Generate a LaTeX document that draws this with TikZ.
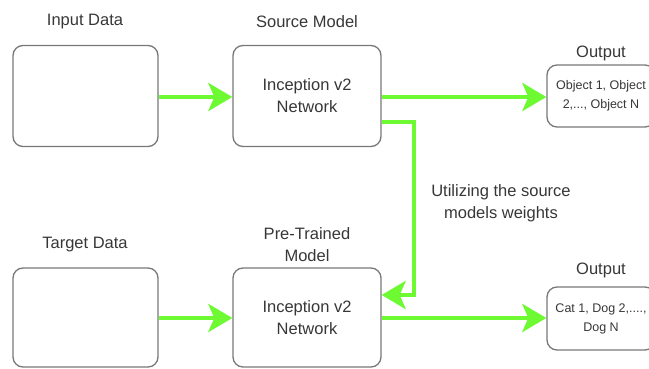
\documentclass[tikz,border=0pt]{standalone}
\usepackage{fontspec}
\setmainfont{Liberation Sans}
\usetikzlibrary{arrows.meta}
\definecolor{arrgreen}{RGB}{110,250,50}
\definecolor{boxgray}{RGB}{120,120,120}
\definecolor{txtgray}{RGB}{55,55,55}
\begin{document}
\begin{tikzpicture}[x=1pt,y=-1pt,
  box/.style={draw=boxgray,line width=1.3pt,rounded corners=10pt,fill=white,inner sep=0pt,align=center,text=txtgray,font=\fontsize{16.5}{22}\selectfont},
  lbl/.style={align=center,font=\fontsize{16.5}{22}\selectfont,text=txtgray,inner sep=0pt},
  small/.style={font=\fontsize{12.5}{19}\selectfont},
  garrow/.style={draw=arrgreen,line width=4.5pt,-{Stealth[length=24pt,width=28pt,inset=6pt]}}]
\useasboundingbox (0,0) rectangle (649,369);
\clip (0,0) rectangle (649,369);
\node[box,minimum width=145pt,minimum height=101pt] (in) at (85.5,96) {};
\node[box,minimum width=148pt,minimum height=101pt] (src) at (307,96) {Inception v2\\Network};
\node[box,small,minimum width=108pt,minimum height=62pt] (out1) at (601,96) {Object 1, Object\\2,..., Object N};
\node[box,minimum width=145pt,minimum height=99pt] (tgt) at (85.5,317.5) {};
\node[box,minimum width=148pt,minimum height=99pt] (pre) at (307,317.5) {Inception v2\\Network};
\node[box,small,minimum width=108pt,minimum height=63pt] (out2) at (601,318.5) {Cat 1, Dog 2,....,\\Dog N};
\node[lbl] (l1) at (85,22) {Input Data};
\node[lbl] (l2) at (307,22) {Source Model};
\node[lbl] (l3) at (601,53) {Output};
\node[lbl] (l4) at (85,245) {Target Data};
\node[lbl] (l5) at (307,245) {Pre-Trained\\Model};
\node[lbl] (l6) at (601,270) {Output};
\node[lbl] (l7) at (501,203) {Utilizing the source\\models weights};
\coordinate (e1) at (414,122);
\coordinate (e2) at (414,295);
\draw[garrow] (in.east |- 0,97) -- (src.west |- 0,97);
\draw[garrow] (src.east |- 0,97) -- (out1.west |- 0,97);
\draw[garrow] (tgt.east |- 0,318) -- (pre.west |- 0,318);
\draw[garrow] (pre.east |- 0,318) -- (out2.west |- 0,318);
\draw[garrow] (src.east |- e1) -- (e1) -- (e2) -- (pre.east |- e2);
\end{tikzpicture}
\end{document}
